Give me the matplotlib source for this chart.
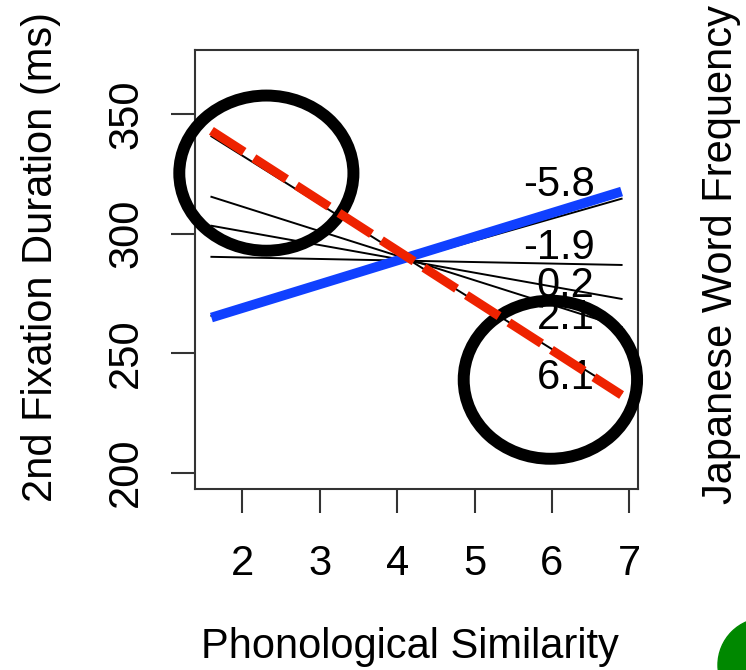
import matplotlib
matplotlib.use("Agg")
import matplotlib.pyplot as plt
from matplotlib.patches import Ellipse

plt.rcParams['font.family'] = ['Liberation Sans', 'DejaVu Sans']

# phonological similarity range covered by the fitted lines
similarity = [1.6, 6.9]

# predicted 2nd fixation duration at each frequency level
freq_labels = ['-5.8', '-1.9', '0.2', '2.1', '6.1']
dur_low_sim = [265.6, 290.3, 303.3, 315.4, 340.7]
dur_high_sim = [314.6, 286.9, 272.7, 261.0, 233.5]
label_y = [320.5, 294.0, 278.0, 264.9, 239.7]

# highlighted fits
blue_fit = [264.9, 317.6]
red_fit = [343.0, 232.5]

# ellipses around the two ends: (x, y, width, height) in data units
rings = [(2.31, 325.3, 2.25, 64.9), (5.98, 238.9, 2.24, 66.1)]

xticks = [2, 3, 4, 5, 6, 7]
yticks = [200, 250, 300, 350]

fig = plt.figure(figsize=(7.46, 6.70), dpi=100)
ax = fig.add_axes([195 / 746, 1 - 489 / 670, 443 / 746, 439 / 670])

for lo, hi in zip(dur_low_sim, dur_high_sim):
    ax.plot(similarity, [lo, hi], color='black', lw=1.4, zorder=2)

for lab, yy in zip(freq_labels, label_y):
    ax.text(6.55, yy, lab, ha='right', va='center', fontsize=30, zorder=3)

for cx, cy, w, h in rings:
    ax.add_patch(Ellipse((cx, cy), w, h, fill=False, ec='black', lw=8.6,
                         clip_on=False, zorder=4))

ax.plot(similarity, blue_fit, color='#1040ff', lw=7, solid_capstyle='butt', zorder=5)
ax.plot(similarity, red_fit, color='#ee2200', lw=6.5, dash_capstyle='butt',
        linestyle=(0, (4.3, 1.3)), zorder=6)

ax.set_xlim(1.388, 7.112)
ax.set_ylim(193.2, 376.8)
ax.set_xticks(xticks)
ax.set_yticks(yticks)
ax.tick_params(axis='both', length=17.3, width=1.5, labelsize=30, color='#333333')
ax.tick_params(axis='x', pad=22)
ax.tick_params(axis='y', pad=18)
for lab in ax.get_yticklabels():
    lab.set_rotation(90)
    lab.set_va('center')
for sp in ax.spines.values():
    sp.set_linewidth(1.5)
    sp.set_color('#333333')

fig.text(52 / 746, 1 - 257 / 670, '2nd Fixation Duration (ms)', fontsize=30,
         rotation=90, rotation_mode='anchor', ha='center', va='baseline')
fig.text(410 / 746, 1 - 658 / 670, 'Phonological Similarity', fontsize=30,
         ha='center', va='baseline')
fig.text(732 / 746, 1 - 255 / 670, 'Japanese Word Frequency', fontsize=30,
         rotation=90, rotation_mode='anchor', ha='center', va='baseline')

fig.patches.append(Ellipse((765 / 746, 1 - 665 / 670), 94 / 746, 94 / 670,
                           transform=fig.transFigure, color='#008800'))

fig.savefig('out.png', dpi=100)
